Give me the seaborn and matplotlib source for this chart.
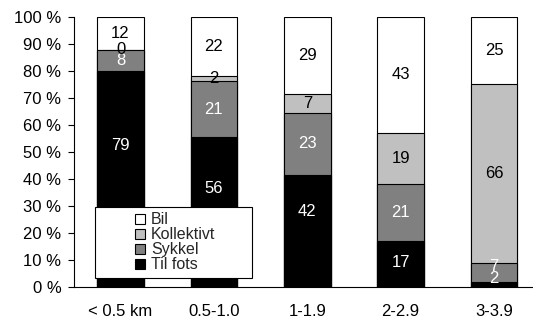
import numpy as np
import pandas as pd
import matplotlib
matplotlib.use("Agg")
import matplotlib.pyplot as plt
from matplotlib.patches import Patch, Rectangle
import seaborn as sns

# Trip distance bands and mode shares (%)
categories = ["< 0.5 km", "0.5-1.0", "1-1.9", "2-2.9", "3-3.9"]
til_fots = [79, 56, 42, 17, 2]
sykkel = [8, 21, 23, 21, 7]
kollektivt = [0, 2, 7, 19, 66]
bil = [12, 22, 29, 43, 25]

modes = ["Til fots", "Sykkel", "Kollektivt", "Bil"]
colors = {"Til fots": "#000000", "Sykkel": "#808080",
          "Kollektivt": "#c0c0c0", "Bil": "#ffffff"}
text_colors = {"Til fots": "white", "Sykkel": "white",
               "Kollektivt": "black", "Bil": "black"}
# vertical nudges (percentage points) for labels kept clear of the legend
label_nudge = {"Til fots": [12.4, 8.9, 7.1, 0.5, 2.3],
               "Sykkel": [0, 0, 0, 0, 1.9]}
yticks = [0, 10, 20, 30, 40, 50, 60, 70, 80, 90, 100]
ytick_labels = [f"{v} %" for v in yticks]

sns.set_theme(style="white")
plt.rcParams["font.family"] = ["Liberation Sans", "DejaVu Sans"]

df = pd.DataFrame({"Avstand": categories, "Til fots": til_fots,
                   "Sykkel": sykkel, "Kollektivt": kollektivt, "Bil": bil})
vals = df[modes].to_numpy(dtype=float)
# 100 % stacked: normalise each band to its total
shares = vals / vals.sum(axis=1, keepdims=True) * 100
cum = np.cumsum(shares, axis=1)
for i, m in enumerate(modes):
    df[m + "_cum"] = cum[:, i]

fig = plt.figure(figsize=(5.33, 3.25), dpi=100)
ax = fig.add_axes([0.1385, 0.117, 0.876, 0.831])

# Draw cumulative totals from the top down so each segment overlays the next
for m in reversed(modes):
    sns.barplot(data=df, x="Avstand", y=m + "_cum", order=categories,
                color=colors[m], saturation=1, width=0.5,
                edgecolor="black", linewidth=0.8, ax=ax, zorder=2)

# Value labels in the middle of each segment
for i in range(len(categories)):
    lower = 0.0
    for j, m in enumerate(modes):
        upper = cum[i, j]
        y = (lower + upper) / 2 + label_nudge.get(m, [0] * 5)[i]
        ax.text(i, y, f"{int(vals[i, j])}",
                ha="center", va="center", fontsize=12,
                color=text_colors[m], zorder=5)
        lower = upper

ax.set_xlim(-0.5, 4.5)
ax.set_ylim(0, 100)
ax.set_yticks(yticks)
ax.set_yticklabels(ytick_labels)
ax.set_xlabel("")
ax.set_ylabel("")
ax.tick_params(axis="y", length=4, width=0.8, color="black", pad=5,
               labelsize=12, labelcolor="black", left=True)
ax.tick_params(axis="x", length=0, pad=12, labelsize=12, labelcolor="black")
for s in ["top", "right"]:
    ax.spines[s].set_visible(False)
for s in ["left", "bottom"]:
    ax.spines[s].set_color("black")
    ax.spines[s].set_linewidth(0.8)
    ax.spines[s].set_zorder(4)
ax.grid(False)

# Legend box and entries
frame = Rectangle((0.046, 0.033), 0.335, 0.263, transform=ax.transAxes,
                  facecolor="white", edgecolor="black", linewidth=0.8, zorder=6)
ax.add_patch(frame)
handles = [Patch(facecolor=colors[m], edgecolor="black", linewidth=0.8, label=m)
           for m in reversed(modes)]
leg = ax.legend(handles=handles, loc="upper left",
                bbox_to_anchor=(0.131, 0.276), frameon=False, borderpad=0,
                borderaxespad=0, fontsize=11.5, handlelength=0.6,
                handleheight=0.6, handletextpad=0.4, labelspacing=0.0)
leg.set_zorder(7)

fig.savefig("out.png", dpi=100)
